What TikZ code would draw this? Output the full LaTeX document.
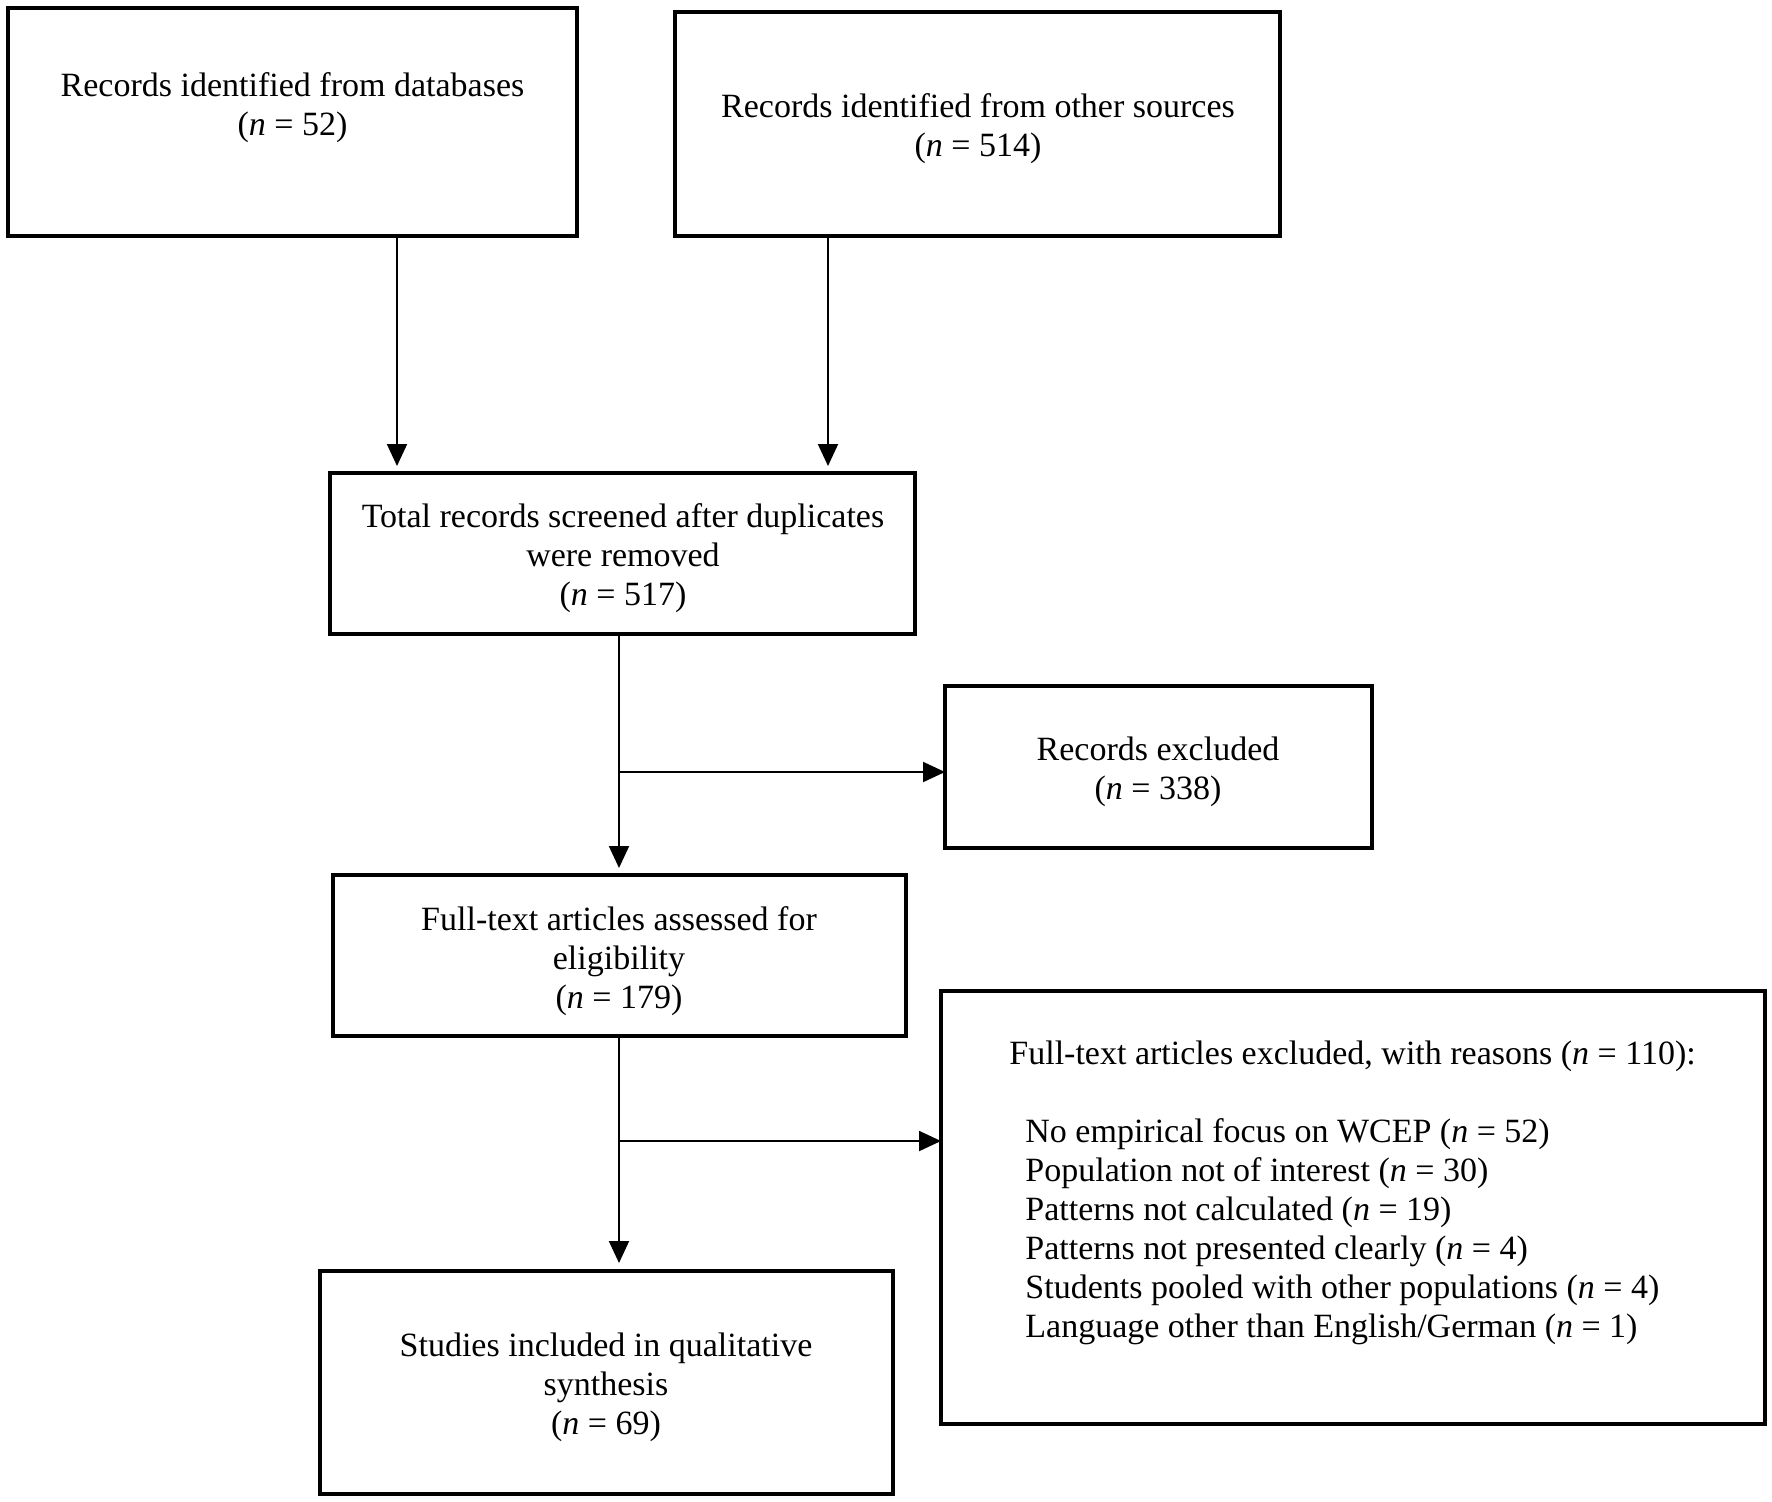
\documentclass[tikz,border=0pt]{standalone}
\usepackage{fontspec}
\setmainfont{Liberation Serif}
\usetikzlibrary{arrows.meta}
\begin{document}
\begin{tikzpicture}[x=0.5pt,y=-0.5pt,
  box/.style={draw, line width=1.7pt, inner sep=0pt, outer sep=0pt},
  txt/.style={inner sep=0pt, align=center, font=\fontsize{17}{19.5}\selectfont},
  ltxt/.style={inner sep=0pt, align=left, font=\fontsize{17}{19.5}\selectfont},
  arr/.style={line width=1pt, -{Triangle[width=10pt,length=11pt]}}]
\useasboundingbox (0,0) rectangle (1772,1501);
\fill[white] (0,0) rectangle (1772,1501);

\node[box, minimum width=284.5pt, minimum height=114pt] (b1) at (292.5,122) {};
\node[box, minimum width=302.5pt, minimum height=112pt] (b2) at (977.5,124) {};
\node[box, minimum width=292.5pt, minimum height=80.5pt] (b3) at (622.5,553.5) {};
\node[box, minimum width=213.5pt, minimum height=81pt] (b4) at (1158.5,767) {};
\node[box, minimum width=286.5pt, minimum height=80.5pt] (b5) at (619.5,955.5) {};
\node[box, minimum width=412pt, minimum height=216.5pt] (b6) at (1353,1207.5) {};
\node[box, minimum width=286.5pt, minimum height=111.5pt] (b7) at (606.5,1382.5) {};

\node[txt] (t1) at (292.5,108) {Records identified from databases\\(\textit{n} = 52)};
\node[txt] (t2) at (978,129) {Records identified from other sources\\(\textit{n} = 514)};
\node[txt] (t3) at (623,558) {Total records screened after duplicates\\were removed\\(\textit{n} = 517)};
\node[txt] (t4) at (1158,772) {Records excluded\\(\textit{n} = 338)};
\node[txt] (t5) at (619,961) {Full-text articles assessed for\\eligibility\\(\textit{n} = 179)};
\node[txt] (t7) at (606,1387) {Studies included in qualitative\\synthesis\\(\textit{n} = 69)};
\node[ltxt, anchor=west] (t6h) at (1009,1056) {Full-text articles excluded, with reasons (\textit{n} = 110):};
\node[ltxt, anchor=west] (t6l) at (1025,1232) {No empirical focus on WCEP (\textit{n} = 52)\\
Population not of interest (\textit{n} = 30)\\
Patterns not calculated (\textit{n} = 19)\\
Patterns not presented clearly (\textit{n} = 4)\\
Students pooled with other populations (\textit{n} = 4)\\
Language other than English/German (\textit{n} = 1)};

\coordinate (x1) at (397,0);
\coordinate (x2) at (828,0);
\coordinate (x3) at (619,0);
\coordinate (j1) at (619,772);
\coordinate (j2) at (619,1141);

\draw[arr, shorten >=3.5pt] (b1.south -| x1) -- (b3.north -| x1);
\draw[arr, shorten >=3.5pt] (b2.south -| x2) -- (b3.north -| x2);
\draw[arr, shorten >=3.5pt] (b3.south -| x3) -- (b5.north -| x3);
\draw[arr] (j1) -- (j1 -| b4.west);
\draw[arr, shorten >=4pt] (b5.south -| x3) -- (b7.north -| x3);
\draw[arr] (j2) -- (j2 -| b6.west);
\end{tikzpicture}
\end{document}
